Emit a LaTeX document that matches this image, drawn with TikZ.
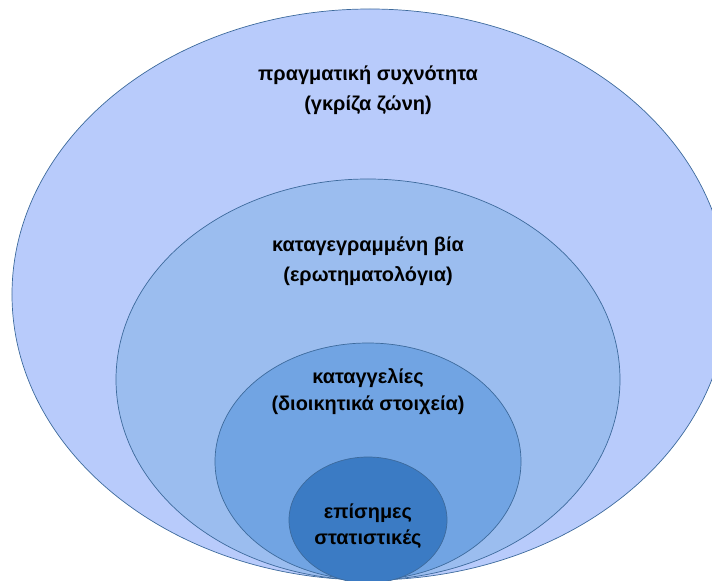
\documentclass[tikz,border=0pt]{standalone}
\usepackage{fontspec}
\setmainfont{Liberation Sans}
\usetikzlibrary{shapes.geometric}
\definecolor{realfill}{HTML}{B8CBFB}
\definecolor{surveyfill}{HTML}{9BBDEF}
\definecolor{reportfill}{HTML}{71A4E3}
\definecolor{officialfill}{HTML}{3B7BC4}
\definecolor{ringline}{HTML}{3D6A9C}
\begin{document}
\begin{tikzpicture}[x=1bp,y=-1bp,
    ring/.style={ellipse,draw=ringline,line width=0.7pt,inner sep=0pt},
    lbl/.style={font=\bfseries\fontsize{20}{30}\selectfont,align=center}]
            \useasboundingbox (0,0) rectangle (712,581);
            \clip (0,0) rectangle (712,581);
            \node[ring,fill=realfill,minimum width=716bp,minimum height=571bp] (real) at (370,294.5) {};
            \node[ring,fill=surveyfill,minimum width=504bp,minimum height=401bp] (survey) at (368,379.5) {};
            \node[ring,fill=reportfill,minimum width=306bp,minimum height=237bp] (report) at (368,461.5) {};
            \node[ring,fill=officialfill,minimum width=158bp,minimum height=126bp] (official) at (368,520) {};
            \node[lbl] (reallbl) at (368,90) {πραγματική συχνότητα\\(γκρίζα ζώνη)};
            \node[lbl] (surveylbl) at (368,261) {καταγεγραμμένη βία\\(ερωτηματολόγια)};
            \node[lbl,font=\bfseries\fontsize{20}{27}\selectfont] (reportlbl) at (368,391.5) {καταγγελίες\\(διοικητικά στοιχεία)};
            \node[lbl,font=\bfseries\fontsize{20}{26}\selectfont] (officiallbl) at (368,526) {επίσημες\\στατιστικές};
        \end{tikzpicture}
\end{document}
